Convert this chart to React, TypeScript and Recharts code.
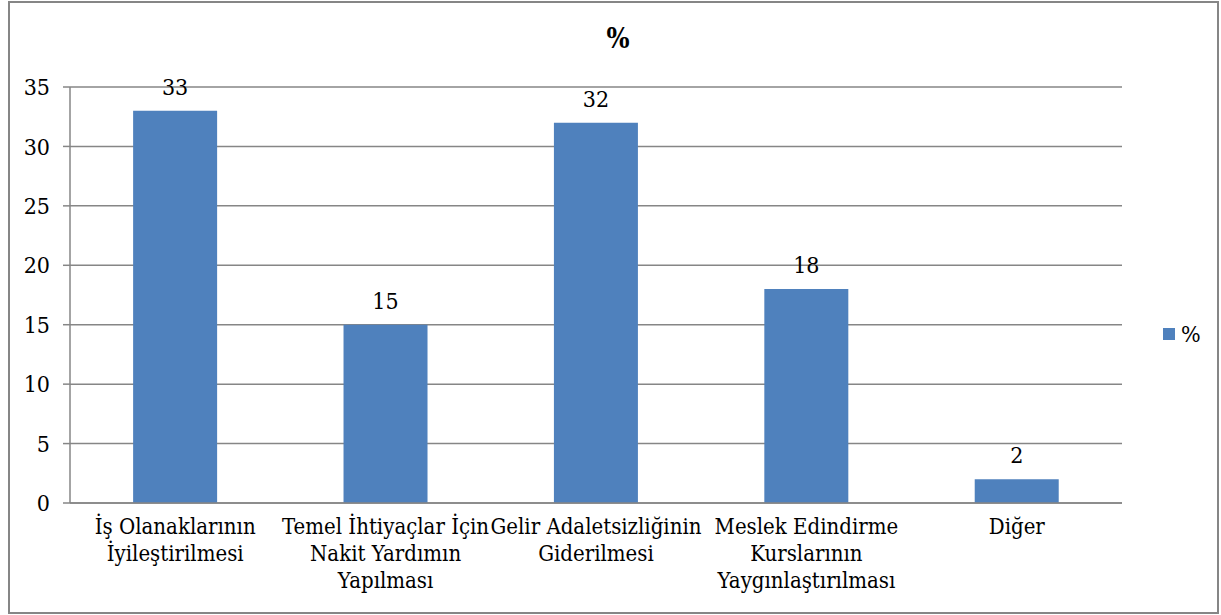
import React from "react";
import { BarChart, Bar, XAxis, YAxis, CartesianGrid, LabelList } from "recharts";

const categories = [
  "İş Olanaklarının\nİyileştirilmesi",
  "Temel İhtiyaçlar İçin\nNakit Yardımın\nYapılması",
  "Gelir Adaletsizliğinin\nGiderilmesi",
  "Meslek Edindirme\nKurslarının\nYaygınlaştırılması",
  "Diğer",
];
const percentValues = [33, 15, 32, 18, 2];
const yTicks = [0, 5, 10, 15, 20, 25, 30, 35];
const boundaryTicks = [0, 1, 2, 3, 4, 5];
const seriesName = "%";

const data = categories.map((name, i) => ({ name, value: percentValues[i], pos: i + 0.5 }));

const FONT = "'DejaVu Serif Condensed', 'DejaVu Serif', serif";
const GRID = "#868686";
const BLUE = "#4F81BD";

const CategoryTick = (props: any) => {
  const { x, y, payload } = props;
  const lines = String(payload.value).split("\n");
  return (
    <text x={x} y={y} textAnchor='middle' style={{ fontFamily: FONT }} fontSize={22} fill='#000'>
      {lines.map((line, i) => (
        <tspan key={i} x={x} dy={i === 0 ? 31 : 27}>
          {line}
        </tspan>
      ))}
    </text>
  );
};

const App: React.FC = () => {
  return (
    <div
      style={{
        position: "absolute",
        left: 0,
        top: 0,
        width: 1221,
        height: 615,
        background: "#fff",
        fontFamily: FONT,
      }}>
      <div
        style={{
          position: "absolute",
          left: 8,
          top: 1,
          width: 1211,
          height: 613,
          border: `2px solid ${GRID}`,
          boxSizing: "border-box",
        }}
      />
      <div style={{ position: "absolute", left: 0, top: 0 }}>
        <BarChart
          width={1221}
          height={615}
          data={data}
          margin={{ top: 87, right: 99, bottom: 12, left: 10 }}
          barCategoryGap='30%'
          style={{ fontFamily: FONT }}>
          <text x={618} y={48} textAnchor='middle' style={{ fontFamily: FONT }} fontSize={27} fontWeight='bold' fill='#000'>
            {seriesName}
          </text>
          <CartesianGrid horizontal vertical={false} stroke={GRID} strokeWidth={1.5} />
          <XAxis
            xAxisId='cat'
            dataKey='name'
            height={100}
            tickLine={false}
            tickSize={0}
            tickMargin={0}
            axisLine={{ stroke: GRID, strokeWidth: 1.5 }}
            tick={<CategoryTick />}
            interval={0}
          />
          <XAxis
            xAxisId='edges'
            type='number'
            dataKey='pos'
            domain={[0, 5]}
            ticks={boundaryTicks}
            height={0}
            tick={false}
            axisLine={false}
            tickSize={7}
            tickLine={{ stroke: GRID, strokeWidth: 1.5 }}
          />
          <YAxis
            width={60}
            domain={[0, 35]}
            ticks={yTicks}
            interval={0}
            tickSize={7}
            tickMargin={13}
            axisLine={{ stroke: GRID, strokeWidth: 1.5 }}
            tickLine={{ stroke: GRID, strokeWidth: 1.5 }}
            tick={{ style: { fontFamily: FONT }, fontSize: 23, fill: "#000" }}
          />
          <Bar xAxisId='cat' dataKey='value' name={seriesName} fill={BLUE} isAnimationActive={false}>
            <LabelList dataKey='value' position='top' offset={16} style={{ fontFamily: FONT }} fontSize={23} fill='#000' />
          </Bar>
        </BarChart>
      </div>
      <div
        style={{
          position: "absolute",
          left: 1163,
          top: 321,
          display: "flex",
          alignItems: "center",
          fontSize: 23,
          color: "#000",
        }}>
        <span style={{ display: "inline-block", width: 12, height: 12, background: BLUE, marginRight: 6 }} />
        <span>{seriesName}</span>
      </div>
    </div>
  );
};

export default App;
